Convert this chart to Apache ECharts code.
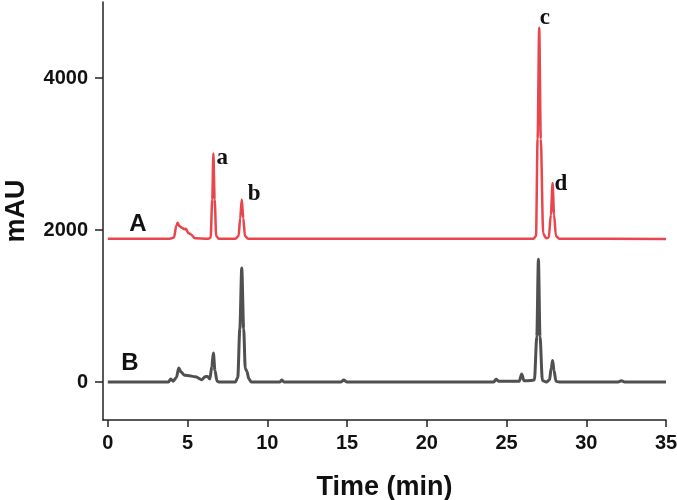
<!DOCTYPE html>
<html>
<head>
<meta charset="utf-8">
<script src="https://cdn.jsdelivr.net/npm/echarts@6/dist/echarts.min.js"></script>
<style>
  html, body { margin: 0; padding: 0; background: #fff; }
  #chart { width: 677px; height: 500px; }
</style>
</head>
<body>
<div id="chart"></div>
<script>
// chromatogram A (red, offset upward) – [time (min), mAU]
const traceA = [
  [0, 1885], [3.9, 1885], [4.15, 1900], [4.3, 2060], [4.38, 2096], [4.5, 2050],
  [4.65, 2030], [4.8, 2010], [4.9, 2015], [5.05, 1960], [5.2, 1945], [5.47, 1890],
  [6.3, 1885], [6.45, 1900], [6.55, 2400], [6.62, 3005], [6.7, 2400], [6.8, 1920],
  [6.95, 1885], [8.0, 1885], [8.2, 1920], [8.3, 2150], [8.4, 2400], [8.5, 2150],
  [8.6, 1920], [8.8, 1885], [26.7, 1885], [26.85, 1920], [26.95, 3200], [27.05, 4660],
  [27.15, 3200], [27.3, 1950], [27.5, 1890], [27.65, 1900], [27.78, 2200], [27.89, 2620],
  [27.98, 2200], [28.1, 1920], [28.3, 1885], [35, 1880]
];

// chromatogram B (dark grey)
const traceB = [
  [0, 0], [3.8, 0], [3.95, 40], [4.1, 10], [4.3, 60], [4.45, 184], [4.6, 130],
  [4.8, 90], [5.0, 85], [5.5, 70], [5.9, 30], [6.1, 70], [6.25, 74], [6.4, 40],
  [6.52, 200], [6.62, 380], [6.72, 150], [6.85, 10], [7.0, 0], [8.0, 0], [8.15, 60],
  [8.28, 700], [8.4, 1500], [8.52, 700], [8.62, 180], [8.72, 140], [8.85, 40], [9.0, 0],
  [10.8, 0], [10.9, 25], [11.05, 0], [14.6, 0], [14.8, 25], [15.0, 0], [24.2, 0],
  [24.35, 35], [24.5, 10], [25.8, 10], [25.95, 105], [26.1, 15], [26.5, 20], [26.75, 25],
  [26.9, 600], [27.0, 1615], [27.1, 600], [27.25, 20], [27.5, 0], [27.7, 30], [27.8, 180],
  [27.89, 284], [27.98, 150], [28.1, 10], [28.3, 0], [32.0, 0], [32.2, 15], [32.4, 0], [35, 0]
];

const xTicks = [0, 5, 10, 15, 20, 25, 30, 35];
const yTicks = [0, 2000, 4000];

// peak letters and trace names: [text, time, mAU]
const peakLabels = [["a", 7.17, 2945], ["b", 9.18, 2472], ["c", 27.4, 4783], ["d", 28.41, 2604]];
const traceLabels = [["A", 1.89, 2078], ["B", 1.38, 250]];

const chart = echarts.init(document.getElementById("chart"));

const axisFont = { fontFamily: "Liberation Sans", fontWeight: "bold", color: "#111" };

function marks(list, font) {
  return list.map(([t, x, y]) => ({
    coord: [x, y],
    symbolSize: 0,
    label: { show: true, position: "inside", formatter: t, color: "#111", ...font },
  }));
}

const option = {
  animation: false,
  grid: { left: 103, right: 11, top: 2, bottom: 80, outerBoundsMode: "none", containLabel: false },
  xAxis: {
    type: "value",
    min: -0.3,
    max: 35,
    name: "Time (min)",
    nameLocation: "middle",
    nameGap: 54,
    nameTextStyle: { ...axisFont, fontSize: 27 },
    axisLine: { onZero: false, lineStyle: { color: "#222", width: 1.5 } },
    axisTick: { customValues: xTicks, length: 7, lineStyle: { color: "#222", width: 1.5 } },
    axisLabel: { customValues: xTicks, ...axisFont, fontSize: 20, margin: 13, formatter: (v) => String(v) },
    splitLine: { show: false },
  },
  yAxis: {
    type: "value",
    min: -500,
    max: 5000,
    name: "mAU",
    nameLocation: "middle",
    nameGap: 73,
    nameRotate: 90,
    nameTextStyle: { ...axisFont, fontSize: 27 },
    axisLine: { show: true, onZero: false, lineStyle: { color: "#222", width: 1.5 } },
    axisTick: { show: true, customValues: yTicks, length: 8, lineStyle: { color: "#222", width: 1.5 } },
    axisLabel: { customValues: yTicks, ...axisFont, fontSize: 20, margin: 15, formatter: (v) => String(v) },
    splitLine: { show: false },
  },
  series: [
    {
      name: "A",
      type: "line",
      data: traceA,
      symbol: "none",
      smooth: 0.3,
      smoothMonotone: "x",
      lineStyle: { color: "#e8464c", width: 2.5 },
      markPoint: {
        symbol: "circle",
        data: marks(peakLabels, { fontFamily: "Liberation Serif", fontWeight: "bold", fontSize: 23 })
          .concat(marks(traceLabels, { fontFamily: "Liberation Sans", fontWeight: "bold", fontSize: 24 })),
      },
    },
    {
      name: "B",
      type: "line",
      data: traceB,
      symbol: "none",
      smooth: 0.3,
      smoothMonotone: "x",
      lineStyle: { color: "#505050", width: 3 },
    },
  ],
};

chart.setOption(option);
</script>
</body>
</html>
